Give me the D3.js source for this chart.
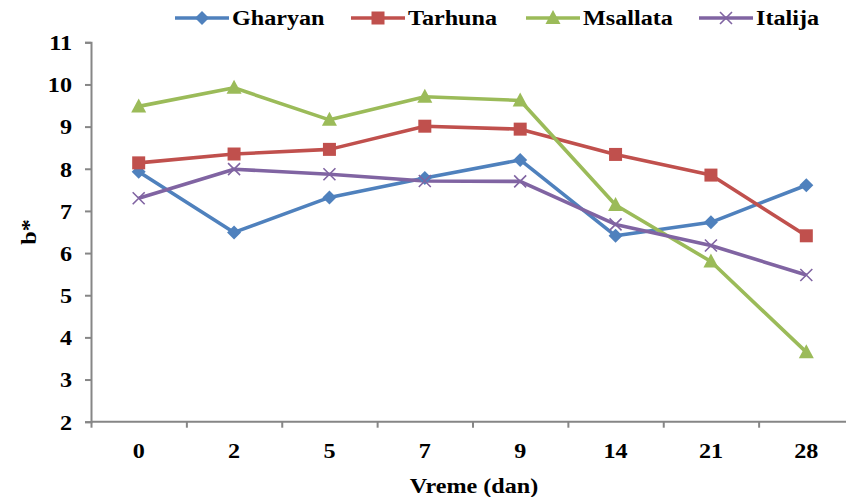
<!DOCTYPE html>
<html><head><meta charset="utf-8">
<script src="https://cdn.jsdelivr.net/npm/d3@7"></script>
<style>body{margin:0;background:#fff}svg{display:block}</style>
</head><body><svg id="c" width="846" height="497"></svg>
<script>
const categories = ["0","2","5","7","9","14","21","28"];
const gharyan  = [7.93, 6.49, 7.32, 7.78, 8.21, 6.41, 6.73, 7.61];
const tarhuna  = [8.14, 8.35, 8.46, 9.01, 8.94, 8.34, 7.85, 6.41];
const msallata = [9.48, 9.92, 9.16, 9.71, 9.62, 7.14, 5.80, 3.65];
const italija  = [7.30, 7.99, 7.87, 7.71, 7.70, 6.68, 6.18, 5.48];
const yTicks = [2,3,4,5,6,7,8,9,10,11];
const seriesNames = ["Gharyan","Tarhuna","Msallata","Italija"];
const colors = ["#4F81BD","#C0504D","#9BBB59","#8064A2"];
const markers = ["diamond","square","triangle","cross"];

const series = seriesNames.map((n,i)=>({name:n, values:[gharyan,tarhuna,msallata,italija][i], color:colors[i], marker:markers[i]}));

const FONT = "'Times New Roman', 'Liberation Serif', Tinos, 'Nimbus Roman', Times, serif";
const svg = d3.select("#c");
const L = 91, R = 854, T = 42.3, B = 421.7;
const x = d3.scaleBand().domain(categories).range([L,R]).padding(0);
const y = d3.scaleLinear().domain([2,11]).range([B,T]);
const xb = d3.scaleLinear().domain([0,categories.length]).range([L,R]);
const axisColor = "#868686";
const SX = 1.15;
const FS = "21px";

function styleText(sel){
  return sel.attr("font-family",FONT).attr("font-weight","bold").attr("font-size",FS).attr("fill","#000");
}

// y axis
const ya = svg.append("g").attr("transform",`translate(${L},0)`)
  .call(d3.axisLeft(y).tickValues(yTicks).tickSize(6).tickFormat(""));
ya.select(".domain").attr("stroke",axisColor).attr("stroke-width",2);
ya.selectAll(".tick line").attr("stroke",axisColor).attr("stroke-width",2);
styleText(ya.selectAll(".tick").append("text")
  .attr("transform",`translate(-19,0) scale(${SX},1)`)
  .attr("dy","0.35em").attr("text-anchor","end"))
  .text(d=>d);

// x axis
const xa = svg.append("g").attr("transform",`translate(0,${B})`)
  .call(d3.axisBottom(xb).ticks(categories.length).tickSize(6).tickFormat(""));
xa.select(".domain").attr("stroke",axisColor).attr("stroke-width",2).attr("d",`M${L},0H${R}`);
xa.selectAll(".tick line").attr("stroke",axisColor).attr("stroke-width",2);
styleText(svg.append("g").selectAll("text").data(categories).join("text")
  .attr("transform",d=>`translate(${x(d)+x.bandwidth()/2},${B+36}) scale(${SX},1)`)
  .attr("text-anchor","middle")).text(d=>d);

// axis titles
styleText(svg.append("text").attr("transform",`translate(36,232) rotate(-90) scale(${SX},1)`)
  .attr("text-anchor","middle")).text("b*");
styleText(svg.append("text").attr("transform",`translate(474,493) scale(${SX},1)`)
  .attr("text-anchor","middle")).text("Vreme (dan)");

function drawMarker(g, type, color){
  if(type==="diamond"){
    g.append("path").attr("d","M0,-7L7,0L0,7L-7,0Z").attr("fill",color);
  } else if(type==="square"){
    g.append("rect").attr("x",-6.5).attr("y",-6.5).attr("width",13).attr("height",13).attr("fill",color);
  } else if(type==="triangle"){
    g.append("path").attr("d","M0,-8L7.5,6L-7.5,6Z").attr("fill",color);
  } else {
    g.append("path").attr("d","M-6,-6L6,6M-6,6L6,-6").attr("stroke",color).attr("stroke-width",1.6).attr("fill","none");
  }
}

const line = d3.line().x((d,i)=>x(categories[i])+x.bandwidth()/2).y(d=>y(d));
series.forEach(s=>{
  svg.append("path").datum(s.values).attr("d",line).attr("fill","none")
    .attr("stroke",s.color).attr("stroke-width",3.6).attr("stroke-linejoin","round");
});
series.forEach(s=>{
  s.values.forEach((v,i)=>{
    const g = svg.append("g").attr("transform",`translate(${x(categories[i])+x.bandwidth()/2},${y(v)})`);
    drawMarker(g, s.marker, s.color);
  });
});

// legend
const legX = [175, 351, 526, 699];
series.forEach((s,i)=>{
  const g = svg.append("g").attr("transform",`translate(${legX[i]},18)`);
  g.append("line").attr("x1",0).attr("x2",54).attr("y1",0).attr("y2",0).attr("stroke",s.color).attr("stroke-width",3.6);
  drawMarker(g.append("g").attr("transform","translate(27,0)"), s.marker, s.color);
  styleText(g.append("text").attr("transform",`translate(57,7) scale(${SX},1)`)).text(s.name);
});
</script></body></html>
